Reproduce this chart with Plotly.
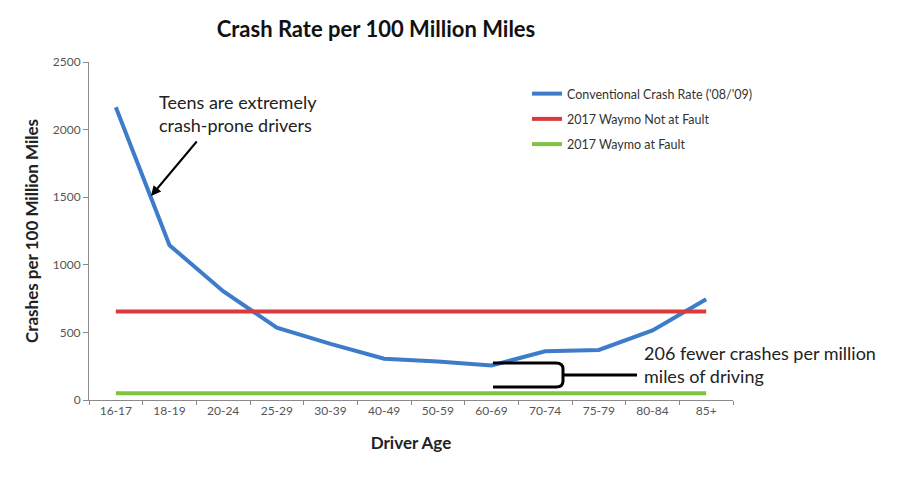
import plotly.graph_objects as go

age_groups = ["16-17", "18-19", "20-24", "25-29", "30-39", "40-49",
              "50-59", "60-69", "70-74", "75-79", "80-84", "85+"]
conventional = [2165, 1145, 805, 535, 415, 305, 285, 255, 360, 370, 515, 745]
waymo_not_fault = [655] * len(age_groups)
waymo_at_fault = [50] * len(age_groups)

FONT = "Lato, 'Open Sans', sans-serif"
OFF = 8  # page body margin

# plot area in pixels (for placing the hand-drawn annotations)
L, R, T, B = 89, 733, 62, 400
def px(x):
    return (x - L) / (R - L)
def py(y):
    return (B - y) / (B - T)

fig = go.Figure()
fig.add_trace(go.Scatter(x=age_groups, y=conventional, mode="lines",
                         name="Conventional Crash Rate ('08/'09)",
                         line=dict(color="#3d7cc9", width=4), legendgroup="a"))
fig.add_trace(go.Scatter(x=age_groups, y=waymo_not_fault, mode="lines",
                         name="2017 Waymo Not at Fault",
                         line=dict(color="#d93a3c", width=4), legendgroup="b"))
fig.add_trace(go.Scatter(x=age_groups, y=waymo_at_fault, mode="lines",
                         name="2017 Waymo at Fault",
                         line=dict(color="#80c242", width=4), legendgroup="c"))

# bracket (curly brace) between the lines
x0, x1, xm, xs = px(493), px(556), px(563), px(637)
yt, yb, ym = py(363), py(387), py(375)
path = (f"M {x0},{yt} L {x1},{yt} Q {xm},{yt} {xm},{py(369)} "
        f"L {xm},{py(381)} Q {xm},{yb} {x1},{yb} L {x0},{yb} "
        f"M {xm},{ym} L {xs},{ym}")
fig.add_shape(type="path", path=path, xref="paper", yref="paper",
              line=dict(color="black", width=3))

fig.add_annotation(text="Teens are extremely<br>crash-prone drivers",
                   xref="paper", yref="paper", x=px(157), y=py(89),
                   xanchor="left", yanchor="top", align="left", showarrow=False,
                   font=dict(family=FONT, size=18, color="#222222"))
fig.add_annotation(xref="paper", yref="paper", x=px(151), y=py(196),
                   ax=47, ay=-56, showarrow=True, arrowhead=2, arrowsize=1,
                   arrowwidth=2, arrowcolor="black", text="")
fig.add_annotation(text="206 fewer crashes per million<br>miles of driving",
                   xref="paper", yref="paper", x=px(642), y=py(340),
                   xanchor="left", yanchor="top", align="left", showarrow=False,
                   font=dict(family=FONT, size=18, color="#222222"))

fig.update_layout(
    width=900, height=480,
    margin=dict(l=L - OFF, r=900 - R + OFF, t=T - OFF, b=480 - B + OFF),
    paper_bgcolor="white", plot_bgcolor="white",
    font=dict(family=FONT, color="#404040"),
    title=dict(text="<b>Crash Rate per 100 Million Miles</b>",
               x=(376 - OFF) / 900, xanchor="center", y=1 - (29 - OFF) / 480,
               yanchor="middle",
               font=dict(family=FONT, size=22, color="#111111")),
    legend=dict(x=px(527), y=py(79), xanchor="left", yanchor="top",
                bgcolor="rgba(0,0,0,0)", tracegroupgap=6,
                font=dict(family=FONT, size=12.5, color="#333333")),
    showlegend=True,
)
fig.update_xaxes(type="category", range=[-0.5, 11.5], showgrid=False,
                 showline=True, linecolor="#8a8a8a", linewidth=1,
                 ticks="outside", tickson="boundaries", ticklen=4,
                 tickcolor="#8a8a8a",
                 tickfont=dict(family=FONT, size=12, color="#555555"),
                 title=dict(text="<b>Driver Age</b>", standoff=19,
                            font=dict(family=FONT, size=17, color="#222222")))
fig.update_yaxes(range=[0, 2500], dtick=500, showgrid=False, zeroline=False,
                 showline=True, linecolor="#8a8a8a", linewidth=1,
                 ticks="outside", ticklen=5, tickcolor="#8a8a8a",
                 tickfont=dict(family=FONT, size=12, color="#555555"),
                 title=dict(text="<b>Crashes per 100 Million Miles</b>", standoff=9,
                            font=dict(family=FONT, size=17, color="#222222")))

fig.write_html("out.html")
